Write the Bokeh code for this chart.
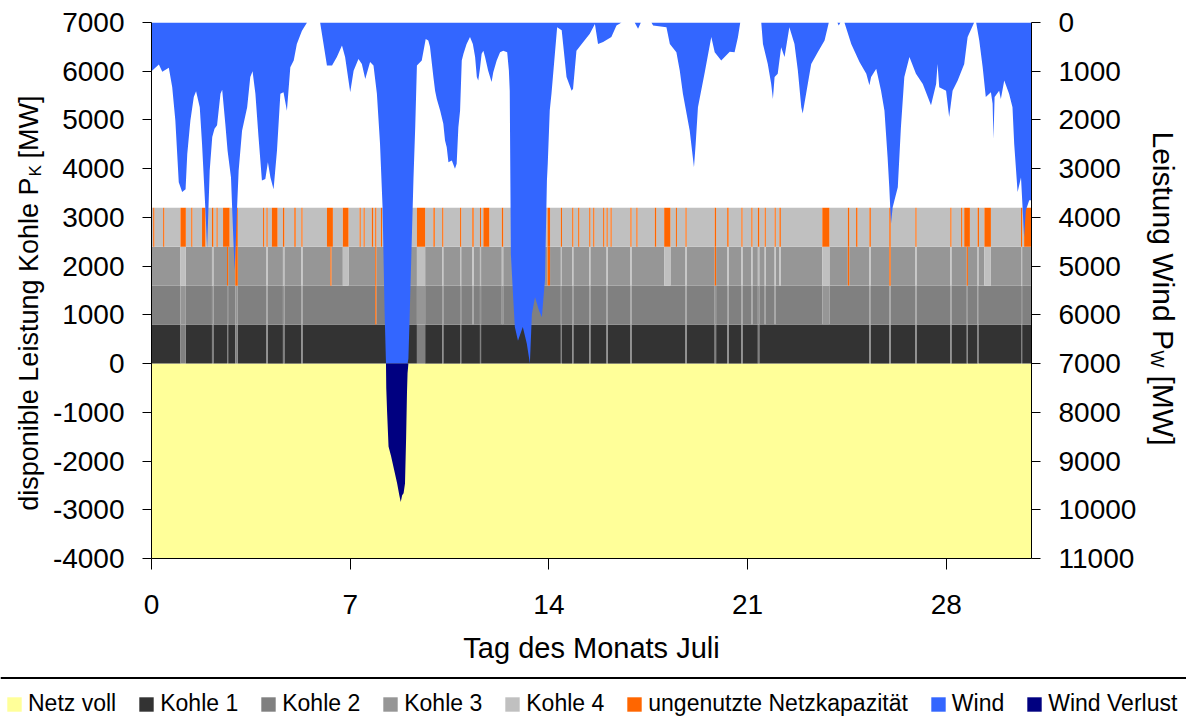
import math
from bokeh.plotting import figure
from bokeh.models import (Range1d, LinearAxis, FixedTicker, Label, Legend,
                          LegendItem, Span)
from bokeh.layouts import column, row
from bokeh.embed import file_html
from bokeh.resources import INLINE

FONT = "Liberation Sans"

# ---------------- data ----------------
day_ticks = [0, 7, 14, 21, 28]
kohle_ticks = [-4000, -3000, -2000, -1000, 0, 1000, 2000, 3000, 4000, 5000, 6000, 7000]
wind_ticks = [0, 1000, 2000, 3000, 4000, 5000, 6000, 7000, 8000, 9000, 10000, 11000]

month_days = 31
netz_kapazitaet_mw = 7000      # wind above this value is lost
netz_voll_unten_mw = -4000

# wind power (MW) over the days of July
wind_day = [0.00, 0.26, 0.38, 0.61, 0.73, 0.84, 0.96, 1.08, 1.20, 1.26, 1.37, 1.49, 1.57, 1.70,
            1.78, 1.90, 1.96, 2.05, 2.14, 2.22, 2.31, 2.43, 2.49, 2.60, 2.68, 2.80, 2.89, 2.93,
            3.01, 3.07, 3.19, 3.37, 3.48, 3.56, 3.66, 3.77, 3.89, 4.01, 4.10, 4.19, 4.30, 4.42,
            4.54, 4.65, 4.77, 4.89, 5.01, 5.12, 5.30, 5.48, 5.94, 6.06, 6.18, 6.36, 6.53, 6.71,
            6.82, 7.00, 7.12, 7.29, 7.41, 7.53, 7.70, 7.82, 7.94, 8.05, 8.14, 8.21, 8.26, 8.27,
            8.30, 8.35, 8.44, 8.55, 8.65, 8.73, 8.78, 8.83, 8.88, 8.93, 8.97, 9.00, 9.02, 9.05,
            9.11, 9.23, 9.29, 9.35, 9.52, 9.66, 9.75, 9.81, 9.93, 9.99, 10.05, 10.17, 10.28,
            10.34, 10.40, 10.46, 10.58, 10.69, 10.75, 10.81, 10.87, 10.93, 10.99, 11.10, 11.22,
            11.32, 11.40, 11.46, 11.51, 11.57, 11.63, 11.69, 11.75, 11.86, 11.98, 12.04, 12.16,
            12.28, 12.39, 12.53, 12.59, 12.62, 12.66, 12.74, 12.80, 12.91, 13.08, 13.22, 13.33,
            13.40, 13.51, 13.65, 13.75, 13.86, 13.93, 13.96, 14.03, 14.09, 14.25, 14.29, 14.45,
            14.50, 14.62, 14.80, 14.85, 14.97, 15.21, 15.44, 15.62, 15.73, 15.91, 16.20, 16.38,
            16.56, 17.02, 17.14, 17.24, 17.61, 17.67, 18.14, 18.26, 18.49, 18.61, 18.72, 18.96,
            19.11, 19.17, 19.25, 19.49, 19.72, 19.84, 20.07, 20.37, 20.54, 20.66, 20.74, 21.48,
            21.54, 21.71, 21.83, 21.89, 21.95, 22.06, 22.18, 22.30, 22.47, 22.65, 22.77, 22.89,
            22.94, 23.06, 23.24, 23.47, 23.71, 23.86, 24.16, 24.21, 24.27, 24.41, 24.65, 24.94,
            25.18, 25.29, 25.35, 25.53, 25.70, 25.82, 25.93, 25.99, 26.05, 26.11, 26.29, 26.40,
            26.52, 26.70, 26.93, 27.17, 27.46, 27.64, 27.69, 27.75, 27.99, 28.10, 28.22, 28.40,
            28.63, 28.75, 28.98, 29.05, 29.16, 29.28, 29.39, 29.57, 29.63, 29.66, 29.70, 29.86,
            29.92, 30.04, 30.21, 30.33, 30.39, 30.51, 30.63, 30.74, 30.80, 30.92, 31.00]
wind_mw = [1000, 860, 1010, 930, 1330, 2010, 3280, 3480, 3420, 2700, 2010, 1530, 1410, 1740,
           2490, 3860, 4640, 3040, 2350, 2180, 2110, 1460, 1380, 2080, 2630, 3180, 4540, 5090,
           3860, 3040, 2220, 1740, 1120, 1000, 1460, 2350, 3240, 3210, 2870, 3180, 3420, 2630,
           1460, 1430, 1810, 920, 780, 440, 170, 0, 0, 440, 880, 880, 710, 470,
           710, 1430, 990, 750, 850, 1160, 810, 880, 1460, 2490, 3790, 5910, 7000, 7500,
           8000, 8700, 8900, 9190, 9450, 9700, 9840, 9700, 9660, 9460, 8510, 7600, 7200, 6900,
           5700, 3180, 2150, 880, 780, 340, 370, 500, 1120, 1400, 1570, 1810, 2080,
           2420, 2560, 2870, 2830, 3000, 2900, 2150, 1810, 780, 640, 440, 300,
           440, 710, 1120, 1190, 950, 640, 580, 710, 990, 1220, 1020, 780,
           610, 580, 610, 990, 1400, 4750, 5640, 6250, 6530, 6250, 6590, 7000,
           5980, 5640, 5910, 6050, 5290, 3240, 2890, 1800, 1460, 370, 100, 160,
           440, 1120, 1400, 1360, 580, 400, 230, 30, 440, 400, 300, 60,
           0, 0, 130, 0, 0, 60, 100, 440, 610, 990, 1460, 2220,
           2970, 2490, 1740, 1020, 300, 610, 780, 600, 610, 300, 0, 0,
           440, 850, 1260, 1570, 1120, 1050, 510, 710, 100, 440, 990, 1740,
           1870, 1460, 850, 610, 370, 0, 0, 60, 0, 0, 440, 810,
           1050, 1290, 1120, 950, 1400, 1810, 2760, 3380, 4130, 3790, 3380, 2150,
           1120, 710, 1050, 1260, 1700, 1260, 850, 1330, 1400, 1940, 1400, 1190,
           850, 300, 0, 0, 370, 920, 1530, 1430, 1670, 2390, 1530, 1400,
           1570, 1190, 1460, 1740, 2490, 3480, 3180, 4400, 3860, 3650, 3650]

# coal units: capacity and outages (unit switched off -> capacity unused)
unit_capacity_mw = [800, 800, 800, 800]
outage_start = [0.06, 0.41, 1.02, 1.40, 1.78, 2.13, 2.29, 2.52, 2.66, 2.95, 2.95, 3.93, 4.05,
                4.24, 4.63, 5.03, 5.28, 6.18, 6.30, 6.74, 7.33, 7.47, 7.76, 7.88, 7.88, 7.88,
                8.08, 9.35, 9.93, 10.24, 10.87, 11.30, 11.57, 11.69, 12.34, 13.95, 13.95,
                14.42, 14.82, 15.03, 15.42, 15.56, 15.91, 16.03, 16.17, 16.87, 17.08, 17.73,
                18.06, 18.47, 18.81, 19.84, 19.84, 20.28, 20.78, 21.13, 21.36, 21.60, 21.95,
                22.12, 23.63, 24.53, 24.53, 24.82, 25.29, 25.99, 25.99, 26.91, 28.14, 28.52,
                28.63, 28.72, 29.10, 29.34, 30.63, 30.74]
outage_end = [0.10, 0.45, 1.21, 1.44, 1.90, 2.18, 2.33, 2.75, 2.70, 3.04, 3.04, 3.97, 4.09,
              4.44, 4.68, 5.08, 5.32, 6.39, 6.34, 6.94, 7.37, 7.51, 7.81, 7.92, 7.92, 7.92,
              8.12, 9.64, 9.98, 10.28, 10.91, 11.35, 11.61, 11.90, 12.39, 14.04, 14.04,
              14.46, 14.86, 15.07, 15.46, 15.60, 15.95, 16.07, 16.21, 16.91, 17.12, 17.78,
              18.28, 18.51, 18.85, 19.89, 19.89, 20.33, 20.82, 21.17, 21.41, 21.64, 21.99,
              22.17, 23.88, 24.58, 24.58, 24.87, 25.34, 26.04, 26.04, 26.95, 28.18, 28.56,
              28.83, 28.76, 29.15, 29.57, 30.67, 31.00]
outage_unit = [4, 4, 1, 4, 4, 1, 4, 4, 1, 1, 4, 4, 1,
               4, 1, 4, 1, 4, 3, 3, 4, 4, 4, 2, 3, 4,
               4, 1, 4, 1, 1, 2, 1, 4, 2, 3, 4,
               1, 1, 4, 1, 4, 4, 1, 4, 1, 4, 4,
               3, 4, 1, 1, 4, 1, 1, 2, 1, 2, 2,
               3, 2, 3, 4, 4, 1, 1, 4, 1, 1, 4,
               4, 1, 1, 3, 1, 4]

legend_names = ["Netz voll", "Kohle 1", "Kohle 2", "Kohle 3", "Kohle 4",
                "ungenutzte Netzkapazität", "Wind", "Wind Verlust"]

# ---------------- styles / layout ----------------
C_NETZ = "#FFFF99"
C_UNIT = {1: "#333333", 2: "#808080", 3: "#969696", 4: "#C0C0C0", 0: "#FF6600"}
C_WIND = "#3366FF"
C_LOSS = "#000080"
legend_colors = [C_NETZ, C_UNIT[1], C_UNIT[2], C_UNIT[3], C_UNIT[4], C_UNIT[0], C_WIND, C_LOSS]

LW, PW, RW = 45, 1096, 45       # left title strip, main plot, right title strip
PH, LH = 676, 48                # main plot height, legend strip height


def no_align(f):
    if "frame_align" in f.properties():
        f.frame_align = False


p = figure(width=PW, height=PH, x_range=Range1d(0, month_days),
           y_range=Range1d(kohle_ticks[0], kohle_ticks[-1]),
           output_backend="svg", toolbar_location=None,
           min_border_left=106, min_border_right=110, min_border_top=22, min_border_bottom=118)
p.extra_y_ranges = {"wind": Range1d(start=wind_ticks[-1], end=wind_ticks[0])}
p.outline_line_color = None
p.grid.visible = False
no_align(p)

# Netz voll
p.quad(left=[0], right=[month_days], bottom=[netz_voll_unten_mw], top=[0],
       fill_color=C_NETZ, line_color=None)

# coal stack
bps = sorted(set([0, month_days] + outage_start + outage_end))
segments = []
for a, b in zip(bps[:-1], bps[1:]):
    mid = 0.5 * (a + b)
    off = {u for s, e, u in zip(outage_start, outage_end, outage_unit) if s <= mid < e}
    on = [u for u in (1, 2, 3, 4) if u not in off]
    segments.append((a, b, [on[k] if k < len(on) else 0 for k in range(4)]))

quads = {c: dict(left=[], right=[], bottom=[], top=[]) for c in (1, 2, 3, 4, 0)}
for k in range(4):
    bot = sum(unit_capacity_mw[:k])
    top = bot + unit_capacity_mw[k]
    cur = None
    for a, b, lev in segments:
        c = lev[k]
        if cur is not None and cur[2] == c:
            cur[1] = b
        else:
            if cur is not None:
                d = quads[cur[2]]
                d["left"].append(cur[0]); d["right"].append(cur[1])
                d["bottom"].append(bot); d["top"].append(top)
            cur = [a, b, c]
    d = quads[cur[2]]
    d["left"].append(cur[0]); d["right"].append(cur[1])
    d["bottom"].append(bot); d["top"].append(top)

for c in (1, 2, 3, 4, 0):
    q = quads[c]
    p.quad(left=q["left"], right=q["right"], bottom=q["bottom"], top=q["top"],
           fill_color=C_UNIT[c], line_color=None)

# wind hanging from the top (inverted right axis)
wind_in = [min(v, netz_kapazitaet_mw) for v in wind_mw]
wind_loss = [max(v, netz_kapazitaet_mw) for v in wind_mw]
p.varea(x=wind_day, y1=[0] * len(wind_day), y2=wind_in, fill_color=C_WIND, y_range_name="wind")
p.varea(x=wind_day, y1=[netz_kapazitaet_mw] * len(wind_day), y2=wind_loss,
        fill_color=C_LOSS, y_range_name="wind")


def style_axis(ax, tick_out):
    ax.axis_line_color = "black"
    ax.major_tick_line_color = "black"
    ax.major_tick_in = 0
    ax.major_tick_out = tick_out
    ax.minor_tick_line_color = None
    ax.major_label_text_font = FONT
    ax.major_label_text_font_size = "28px"
    ax.major_label_text_color = "black"


xa = p.xaxis[0]
xa.ticker = FixedTicker(ticks=day_ticks)
xa.major_label_overrides = {t: str(t) for t in day_ticks}
style_axis(xa, 11)
xa.major_label_standoff = 25
xa.axis_label = "Tag des Monats Juli"
xa.axis_label_text_font = FONT
xa.axis_label_text_font_size = "29px"
xa.axis_label_text_font_style = "normal"
xa.axis_label_text_color = "black"
xa.axis_label_standoff = 15

ya = p.yaxis[0]
ya.ticker = FixedTicker(ticks=kohle_ticks)
ya.major_label_overrides = {t: str(t) for t in kohle_ticks}
style_axis(ya, 9)
ya.major_label_standoff = 18

ra = LinearAxis(y_range_name="wind", ticker=FixedTicker(ticks=wind_ticks))
ra.major_label_overrides = {t: str(t) for t in wind_ticks}
style_axis(ra, 9)
ra.major_label_standoff = 18
p.add_layout(ra, "right")


# ---- axis title strips (page-pixel coordinates) ----
def strip(width, x0):
    f = figure(width=width, height=PH, x_range=Range1d(x0, x0 + width),
               y_range=Range1d(start=PH, end=0), output_backend="svg",
               toolbar_location=None, min_border=0,
               x_axis_location=None, y_axis_location=None)
    f.outline_line_color = None
    f.grid.visible = False
    no_align(f)
    return f


def lab(f, x, y, text, size, align, angle):
    f.add_layout(Label(x=x, y=y, text=text, angle=angle, text_align=align,
                       text_baseline="middle", text_font=FONT,
                       text_font_size=size, text_color="black"))


lf = strip(LW, 0)
lab(lf, 28, 177, "disponible Leistung Kohle P", "27px", "right", math.pi / 2)
lab(lf, 35, 176, "K", "17px", "left", math.pi / 2)
lab(lf, 28, 158, "[MW]", "27px", "left", math.pi / 2)

rf = strip(RW, LW + PW)
lab(rf, 1163, 131, "Leistung Wind P", "30px", "left", -math.pi / 2)
lab(rf, 1156, 350, "W", "18px", "left", -math.pi / 2)
lab(rf, 1163, 375, "[MW]", "30px", "left", -math.pi / 2)

# ---- legend strip ----
p2 = figure(width=LW + PW + RW, height=LH, x_range=Range1d(0, 1), y_range=Range1d(0, LH),
            output_backend="svg", toolbar_location=None, min_border=0,
            x_axis_location=None, y_axis_location=None)
p2.outline_line_color = None
p2.grid.visible = False
no_align(p2)
items = []
for name, col in zip(legend_names, legend_colors):
    # legend key only (placed outside the visible range)
    r = p2.quad(left=[2], right=[3], bottom=[0], top=[1], fill_color=col, line_color=None)
    items.append(LegendItem(label=name, renderers=[r]))
leg = Legend(items=items, orientation="horizontal", location=(5, 7),
             glyph_width=18, glyph_height=18, label_standoff=5, spacing=21,
             padding=0, margin=0, border_line_color=None, background_fill_alpha=0,
             label_text_font=FONT, label_text_font_size="23px", label_height=24,
             label_text_color="black")
p2.add_layout(leg, "center")
p2.add_layout(Span(location=LH - 1.5, dimension="width", line_color="black", line_width=2))

layout = column(row(lf, p, rf, spacing=0), p2, spacing=0)
open("out.html", "w").write(file_html(layout, INLINE))
